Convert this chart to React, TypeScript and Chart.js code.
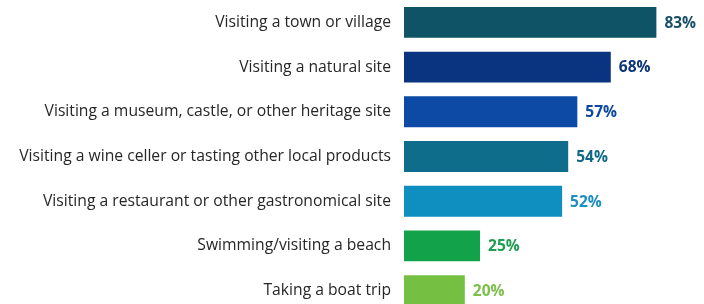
import React, { useEffect, useRef } from "react";
import { Chart, registerables } from "chart.js";

Chart.register(...registerables);

const categories = [
  "Visiting a town or village",
  "Visiting a natural site",
  "Visiting a museum, castle, or other heritage site",
  "Visiting a wine celler or tasting other local products",
  "Visiting a restaurant or other gastronomical site",
  "Swimming/visiting a beach",
  "Taking a boat trip",
];
const values = [83, 68, 57, 54, 52, 25, 20];
const barColors = ["#0e5466", "#0a3380", "#0c4aa6", "#0d6d8b", "#0e8fbf", "#12a24a", "#75c043"];
const labelColors = ["#164f66", "#0c3478", "#0d47a1", "#0f6888", "#1a8fc0", "#1f9e50", "#7cbf4a"];

const valueLabelPlugin = {
  id: "valueLabels",
  afterDatasetsDraw(chart: any) {
    const ctx = chart.ctx;
    const meta = chart.getDatasetMeta(0);
    ctx.save();
    ctx.font = "bold 15.5px 'Open Sans'";
    ctx.textAlign = "left";
    ctx.textBaseline = "middle";
    meta.data.forEach((bar: any, i: number) => {
      ctx.fillStyle = labelColors[i];
      ctx.fillText(values[i] + "%", bar.x + 8, bar.y + 1);
    });
    ctx.restore();
  },
};

export default function App() {
  const ref = useRef<HTMLCanvasElement>(null);
  useEffect(() => {
    if (!ref.current) return;
    const chart = new Chart(ref.current, {
      type: "bar",
      data: {
        labels: categories,
        datasets: [
          {
            data: values,
            backgroundColor: barColors,
            borderWidth: 0,
            categoryPercentage: 1,
            barPercentage: 0.69,
          },
        ],
      },
      options: {
        indexAxis: "y",
        responsive: false,
        animation: false,
        layout: { padding: { top: 0, bottom: 0, left: 0, right: 2 } },
        plugins: { legend: { display: false }, tooltip: { enabled: false } },
        scales: {
          x: { display: false, min: 0, max: 98 },
          y: {
            grid: { display: false, drawTicks: false },
            border: { display: false },
            afterFit: (scale: any) => {
              scale.width = 404;
              scale.paddingTop = 0;
              scale.paddingBottom = 0;
            },
            ticks: {
              padding: 13,
              color: "#262626",
              font: { family: "'Open Sans'", size: 15.7 },
            },
          },
        },
      },
      plugins: [valueLabelPlugin],
    });
    return () => chart.destroy();
  }, []);
  return (
    <div style={{ position: "fixed", left: 0, top: 0, width: 704, height: 304, overflow: "hidden", background: "#fff" }}>
      <canvas ref={ref} width={704} height={313} style={{ display: "block" }} />
    </div>
  );
}
